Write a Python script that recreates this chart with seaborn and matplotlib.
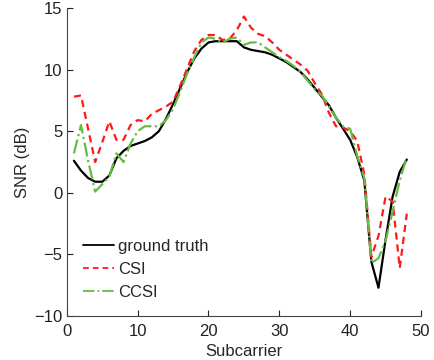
import numpy as np
import pandas as pd
import matplotlib
matplotlib.use("Agg")
import matplotlib.pyplot as plt
import seaborn as sns

subcarrier = list(range(1, 49))

ground_truth = [2.6, 1.8, 1.2, 0.9, 0.9, 1.4, 2.8, 3.4, 3.8, 4.0,
                4.2, 4.5, 5.0, 6.0, 7.2, 8.5, 9.8, 10.9, 11.7, 12.2,
                12.3, 12.3, 12.3, 12.3, 11.8, 11.6, 11.5, 11.4, 11.2, 10.9,
                10.6, 10.2, 9.8, 9.2, 8.5, 7.8, 7.1, 6.1, 5.2, 4.3,
                2.9, 1.0, -5.6, -7.7, -3.8, -0.3, 1.7, 2.7]

csi = [7.8, 7.9, 5.2, 2.5, 4.1, 5.8, 4.3, 4.3, 5.5, 5.9,
       5.8, 6.4, 6.7, 7.0, 7.4, 8.7, 10.1, 11.5, 12.4, 12.8,
       12.8, 12.4, 12.5, 13.2, 14.3, 13.4, 12.9, 12.7, 12.2, 11.6,
       11.2, 10.8, 10.4, 9.9, 8.9, 8.0, 6.5, 5.4, 5.3, 5.0,
       4.2, 1.5, -5.2, -3.5, -0.3, -0.7, -6.1, -1.7]

ccsi = [3.2, 5.5, 2.6, 0.1, 0.7, 1.3, 3.2, 2.5, 4.0, 5.0,
        5.4, 5.4, 5.4, 5.9, 6.8, 8.2, 9.7, 11.0, 12.2, 12.6,
        12.5, 12.2, 12.5, 12.6, 12.0, 12.2, 12.2, 11.8, 11.4, 11.0,
        10.7, 10.3, 9.8, 9.1, 8.4, 7.9, 7.0, 6.1, 5.4, 5.2,
        3.0, 1.2, -5.7, -5.3, -3.9, -1.5, 1.0, 2.9]

series_names = ["ground truth", "CSI", "CCSI"]
x_ticks = [0, 10, 20, 30, 40, 50]
y_ticks = [-10, -5, 0, 5, 10, 15]

df = pd.DataFrame({
    "Subcarrier": subcarrier * 3,
    "SNR": ground_truth + csi + ccsi,
    "series": np.repeat(series_names, len(subcarrier)),
})

sns.set_theme(style="ticks")
plt.rcParams["font.family"] = ["Liberation Sans", "DejaVu Sans"]
plt.rcParams["font.size"] = 12

fig = plt.figure(figsize=(4.34, 3.6), dpi=100)
ax = fig.add_axes([0.154, 0.122, 0.816, 0.856])

styles = {
    "ground truth": dict(color="black", linestyle="-", linewidth=1.6),
    "CSI": dict(color="#ff1a1a", linestyle=(0, (3.2, 2.2)), linewidth=1.6),
    "CCSI": dict(color="#66bb44", linestyle="-.", linewidth=1.6),
}
for name in series_names:
    sub = df[df["series"] == name]
    sns.lineplot(data=sub, x="Subcarrier", y="SNR", ax=ax, label=name,
                 **styles[name])

ax.set_xlim(0, 50)
ax.set_ylim(-10, 15)
ax.set_xticks(x_ticks)
ax.set_yticks(y_ticks)
ax.set_xlabel("Subcarrier", fontsize=12, labelpad=3)
ax.set_ylabel("SNR (dB)", fontsize=12, labelpad=3)
ax.tick_params(direction="in", length=4, width=0.8, labelsize=12,
               colors="#222222")
ax.tick_params(axis="x", pad=6)
ax.tick_params(axis="y", pad=3)
for s in ["left", "bottom"]:
    ax.spines[s].set_color("#444444")
    ax.spines[s].set_linewidth(0.8)
sns.despine(ax=ax)

leg = ax.legend(loc="lower left", frameon=False, fontsize=12,
                handlelength=1.9, handletextpad=0.2, labelspacing=0.48,
                borderaxespad=0.55)
for line in leg.get_lines():
    line.set_linewidth(1.3)

fig.savefig("out.png", dpi=100)
